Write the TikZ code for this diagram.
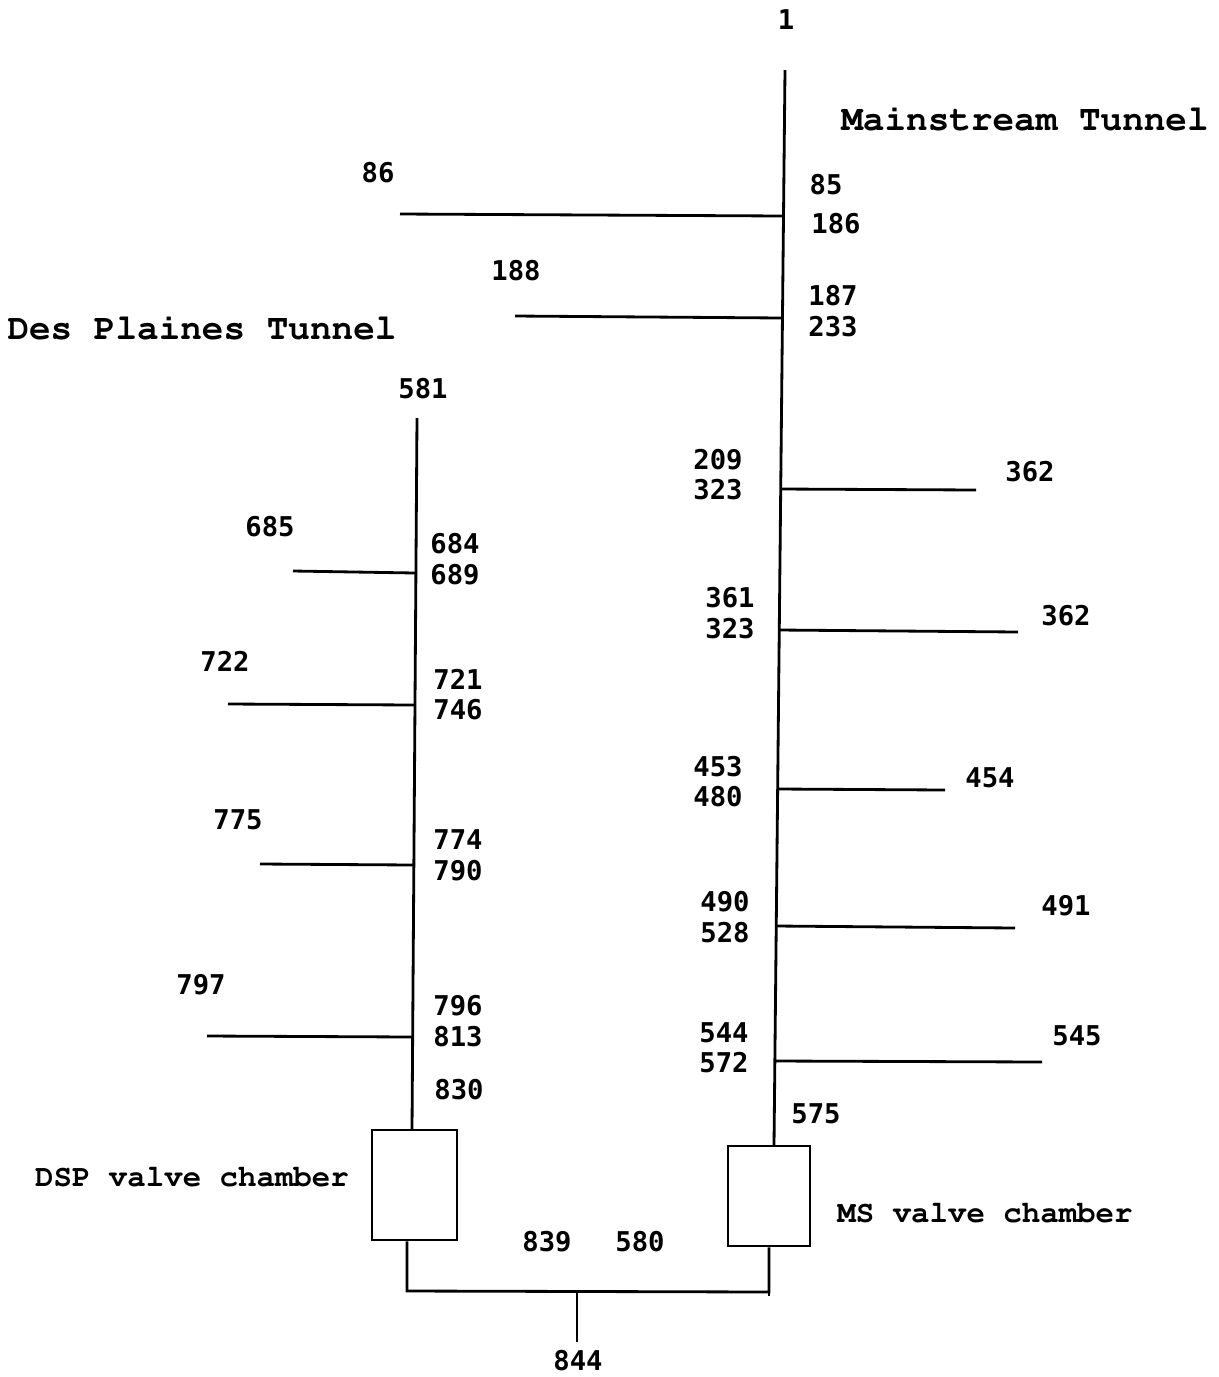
\documentclass[tikz,border=0pt]{standalone}
\usepackage[T1,TU]{fontenc}
\usepackage{fontspec}
\newfontfamily\numfont{DejaVu Sans Mono}
\newcommand\courierbold{\fontencoding{T1}\fontfamily{pcr}\fontseries{b}\selectfont}
\begin{document}
\begin{tikzpicture}[x=0.02cm,y=-0.02cm,
  num/.style={font=\numfont\bfseries\fontsize{15.5}{15.5}\selectfont,inner sep=0pt},
  tunnel/.style={font=\courierbold\fontsize{20.5}{20.5}\selectfont,inner sep=0pt},
  chamber/.style={font=\courierbold\fontsize{17.5}{17.5}\selectfont,inner sep=0pt},
  pipe/.style={line width=1.6pt},
  valve/.style={draw,line width=1.6pt,inner sep=0pt}]
\useasboundingbox (0,0) rectangle (1219,1377);
% Mainstream tunnel
\coordinate (mstop) at (785,70);
\coordinate (msend) at (774,1146);
\draw[pipe] (mstop) -- (msend);
\coordinate (ms86) at (783,216);   \coordinate (end86) at (400,214);
\coordinate (ms188) at (782,318);  \coordinate (end188) at (515,316);
\coordinate (ms362a) at (780,489); \coordinate (end362a) at (976,490);
\coordinate (ms362b) at (779,630); \coordinate (end362b) at (1018,632);
\coordinate (ms454) at (778,789);  \coordinate (end454) at (945,790);
\coordinate (ms491) at (776,926);  \coordinate (end491) at (1015,928);
\coordinate (ms545) at (775,1061); \coordinate (end545) at (1042,1062);
\draw[pipe] (ms86) -- (end86);
\draw[pipe] (ms188) -- (end188);
\draw[pipe] (ms362a) -- (end362a);
\draw[pipe] (ms362b) -- (end362b);
\draw[pipe] (ms454) -- (end454);
\draw[pipe] (ms491) -- (end491);
\draw[pipe] (ms545) -- (end545);
\node[valve,minimum width=1.64cm,minimum height=2cm] (msbox) at (769,1196) {};
% Des Plaines tunnel
\coordinate (dsptop) at (417,418);
\coordinate (dspend) at (412,1130);
\draw[pipe] (dsptop) -- (dspend);
\coordinate (dsp685) at (415,573); \coordinate (end685) at (293,571);
\coordinate (dsp722) at (414,705); \coordinate (end722) at (228,704);
\coordinate (dsp775) at (413,865); \coordinate (end775) at (260,864);
\coordinate (dsp797) at (412,1037); \coordinate (end797) at (207,1036);
\draw[pipe] (dsp685) -- (end685);
\draw[pipe] (dsp722) -- (end722);
\draw[pipe] (dsp775) -- (end775);
\draw[pipe] (dsp797) -- (end797);
\node[valve,minimum width=1.7cm,minimum height=2.2cm] (dspbox) at (414.5,1185) {};
% junction below the chambers
\coordinate (dspout) at (407,1291);
\coordinate (msout) at (769,1292);
\coordinate (tap) at (577,1292);
\coordinate (tapend) at (577,1342);
\draw[pipe] (dspout |- dspbox.south) -- (dspout) -- (msout) -- (msout |- msbox.south);
\draw[pipe] (msout) -- ++(0,4);
\draw[pipe] (tap) -- (tapend);
% labels
\node[num] (lbl1) at (786,20) {1};
\node[tunnel] (mstitle) at (1025,119) {Mainstream Tunnel};
\node[num] (lbl86) at (378,173) {86};
\node[num] (lbl85) at (826,185) {85};
\node[num] (lbl186) at (836,224) {186};
\node[num] (lbl188) at (516,271) {188};
\node[num] (lbl187) at (833,296) {187};
\node[num] (lbl233) at (833,327) {233};
\node[tunnel] (dsptitle) at (202,328) {Des Plaines Tunnel};
\node[num] (lbl581) at (423,389) {581};
\node[num] (lbl209) at (718,460) {209};
\node[num] (lbl323a) at (718,490) {323};
\node[num] (lbl362a) at (1030,472) {362};
\node[num] (lbl685) at (270,527) {685};
\node[num] (lbl684) at (455,544) {684};
\node[num] (lbl689) at (455,575) {689};
\node[num] (lbl361) at (730,598) {361};
\node[num] (lbl323b) at (730,629) {323};
\node[num] (lbl362b) at (1066,616) {362};
\node[num] (lbl722) at (225,661) {722};
\node[num] (lbl721) at (458,679) {721};
\node[num] (lbl746) at (458,710) {746};
\node[num] (lbl453) at (718,767) {453};
\node[num] (lbl480) at (718,797) {480};
\node[num] (lbl454) at (990,778) {454};
\node[num] (lbl775) at (238,820) {775};
\node[num] (lbl774) at (458,840) {774};
\node[num] (lbl790) at (458,871) {790};
\node[num] (lbl490) at (725,902) {490};
\node[num] (lbl528) at (725,933) {528};
\node[num] (lbl491) at (1066,906) {491};
\node[num] (lbl797) at (201,985) {797};
\node[num] (lbl796) at (458,1006) {796};
\node[num] (lbl813) at (458,1037) {813};
\node[num] (lbl544) at (724,1033) {544};
\node[num] (lbl572) at (724,1063) {572};
\node[num] (lbl545) at (1077,1036) {545};
\node[num] (lbl830) at (459,1090) {830};
\node[num] (lbl575) at (816,1114) {575};
\node[chamber] (dsplabel) at (192,1177) {DSP valve chamber};
\node[chamber] (mslabel) at (985,1213) {MS valve chamber};
\node[num] (lbl839) at (547,1242) {839};
\node[num] (lbl580) at (640,1242) {580};
\node[num] (lbl844) at (578,1361) {844};
\end{tikzpicture}
\end{document}
